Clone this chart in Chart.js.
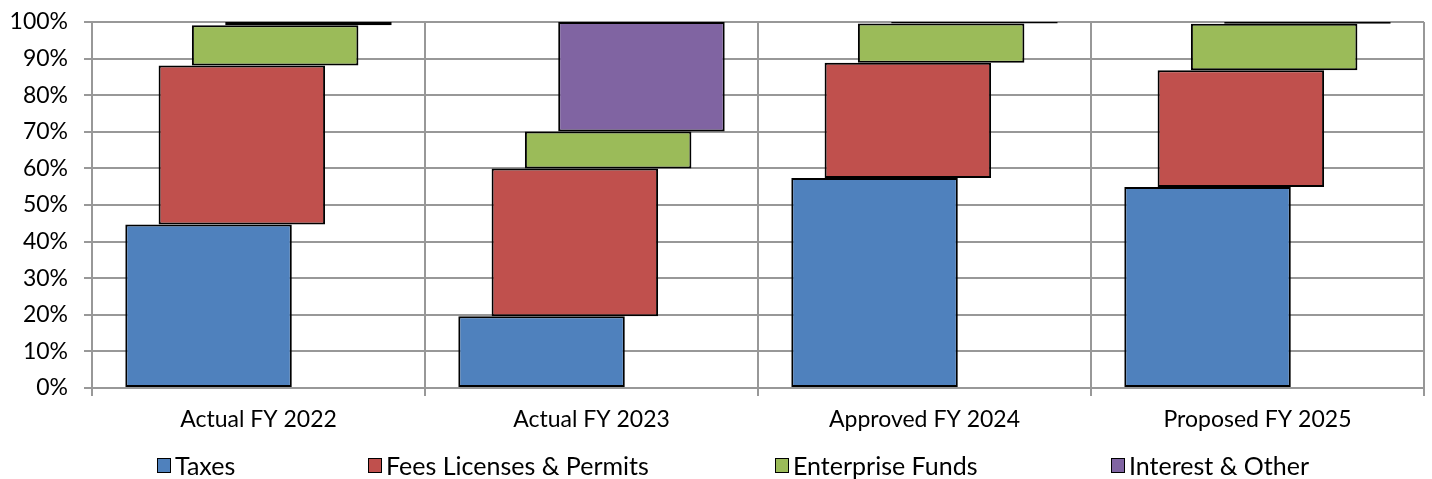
<!DOCTYPE html>
<html>
<head>
<meta charset="utf-8">
<title>Revenue Mix by Fiscal Year</title>
<script src="https://cdn.jsdelivr.net/npm/chart.js@4.4.1/dist/chart.umd.min.js"></script>
<style>
  html, body { margin: 0; padding: 0; background: #fff; }
  #wrap { position: relative; width: 1432px; height: 479px; }
  #legend { position: absolute; left: 0; top: 450px; width: 1432px; height: 30px;
            font-family: Lato, "Noto Sans", sans-serif; font-size: 25px; color: #000; }
  .item { position: absolute; top: 0; height: 30px; display: flex; align-items: center; white-space: nowrap; }
  .sw { width: 12px; height: 13px; border: 1.5px solid #000; margin-right: 4px; }
</style>
</head>
<body>
<div id="wrap">
  <canvas id="chart"></canvas>
  <div id="legend"></div>
</div>
<script>
// Fiscal years shown along the x axis
const categories = ['Actual FY 2022', 'Actual FY 2023', 'Approved FY 2024', 'Proposed FY 2025'];

// Share of total revenue (%) by source
const taxes      = [44.7, 19.6, 57.4, 54.9];
const fees       = [43.4, 40.4, 31.5, 31.9];
const enterprise = [11.0, 10.1, 10.7, 12.7];
const interest   = [0.9, 29.9, 0.4, 0.5];

const seriesNames  = ['Taxes', 'Fees Licenses & Permits', 'Enterprise Funds', 'Interest & Other'];
const seriesColors = ['#4F81BD', '#C0504D', '#9BBB59', '#8064A2'];
const legendLeft   = [157, 368, 775, 1111];

// Each source floats on top of the running total of the sources before it
const seriesValues = [taxes, fees, enterprise, interest];
const running = categories.map(() => 0);
const datasets = seriesValues.map((vals, s) => {
  const data = vals.map((v, i) => {
    const start = running[i];
    running[i] = start + v;
    return [start, running[i]];
  });
  return {
    label: seriesNames[s],
    data,
    backgroundColor: seriesColors[s],
    borderColor: '#000',
    borderWidth: 2,
    borderSkipped: false,
    categoryPercentage: 0.4,
    barPercentage: 5
  };
});

const gridColor = '#989898';
const font = { family: 'Lato, "Noto Sans", sans-serif', size: 23 };

new Chart(document.getElementById('chart'), {
  type: 'bar',
  data: { labels: categories, datasets },
  options: {
    responsive: true,
    maintainAspectRatio: false,
    animation: false,
    layout: { padding: { top: 22, right: 8, left: 0, bottom: 0 } },
    plugins: { legend: { display: false }, tooltip: { enabled: false } },
    scales: {
      x: {
        offset: true,
        grid: { offset: true, color: gridColor, lineWidth: 2, tickLength: 8 },
        border: { color: gridColor, width: 2 },
        ticks: { color: '#000', font, padding: 10, maxRotation: 0 },
        afterFit: (s) => { s.height = 91; }
      },
      y: {
        min: 0, max: 100,
        grid: { color: gridColor, lineWidth: 2, tickLength: 8 },
        border: { color: gridColor, width: 2 },
        ticks: { stepSize: 10, color: '#000', font, padding: 16, callback: (v) => v + '%' },
        afterFit: (s) => { s.width = 92; s.paddingTop = 0; s.paddingBottom = 0; }
      }
    }
  }
});

// Legend row beneath the axis labels
const legend = document.getElementById('legend');
seriesNames.forEach((name, s) => {
  const item = document.createElement('div');
  item.className = 'item';
  item.style.left = legendLeft[s] + 'px';
  const sw = document.createElement('span');
  sw.className = 'sw';
  sw.style.background = seriesColors[s];
  const txt = document.createElement('span');
  txt.textContent = name;
  item.appendChild(sw);
  item.appendChild(txt);
  legend.appendChild(item);
});
</script>
</body>
</html>
